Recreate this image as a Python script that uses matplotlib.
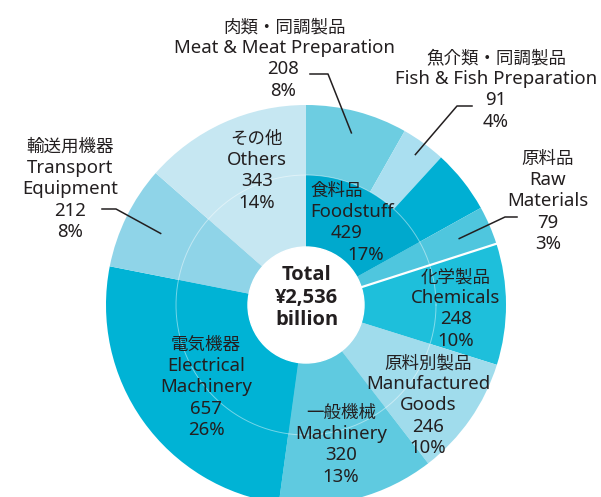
import numpy as np
import matplotlib
matplotlib.use('Agg')
import matplotlib.pyplot as plt

FONT = ['Noto Sans', 'Noto Sans CJK JP', 'DejaVu Sans']
plt.rcParams['font.family'] = FONT

# ---------------- data ----------------
total = 2536
categories_ja = ['食料品', '原料品', '化学製品', '原料別製品', '一般機械', '電気機器', '輸送用機器', 'その他']
categories_en = ['Foodstuff', 'Raw\nMaterials', 'Chemicals', 'Manufactured\nGoods', 'Machinery',
                 'Electrical\nMachinery', 'Transport\nEquipment', 'Others']
values = [429, 79, 248, 246, 320, 657, 212, 343]

food_sub_ja = ['肉類・同調製品', '魚介類・同調製品']
food_sub_en = ['Meat & Meat Preparation', 'Fish & Fish Preparation']
food_sub_values = [208, 91]

colors = ['#00a9cd', '#4fc6de', '#1ebfdb', '#a0dcec', '#5fcae0', '#00b3d5', '#8fd4e8', '#c6e7f2']
food_sub_colors = ['#6dcde1', '#aadff0']
food_rest_color = '#00afd3'
TEXT = '#231f20'

# ---------------- figure ----------------
W, H = 601, 497
fig = plt.figure(figsize=(W / 100, H / 100), dpi=100)
ax = fig.add_axes([0, 0, 1, 1])

C = (306, 305)
R_OUT, R_IN, R_HOLE = 200, 130, 58

outer_vals = food_sub_values + [values[0] - sum(food_sub_values)] + values[1:]
outer_cols = food_sub_colors + [food_rest_color] + colors[1:]

ax.pie(outer_vals, colors=outer_cols, radius=R_OUT, center=C, startangle=-90,
       counterclock=True, wedgeprops=dict(linewidth=0))
ax.pie(values, colors=colors, radius=R_IN, center=C, startangle=-90,
       counterclock=True, wedgeprops=dict(linewidth=0))

th = np.linspace(0, 2 * np.pi, 400)
ax.plot(C[0] + R_IN * np.cos(th), C[1] + R_IN * np.sin(th), color='white', lw=0.7, alpha=0.45)
ax.add_patch(plt.Circle(C, R_HOLE, color='white', zorder=5))

tot_v = sum(outer_vals)
cum = np.cumsum([0] + outer_vals)
def ang(frac):
    return np.deg2rad(-90 + 360 * frac)

# white separator between Raw Materials and Chemicals
a_sep = ang(cum[4] / tot_v)
ax.plot([C[0] + R_HOLE * np.cos(a_sep), C[0] + R_OUT * np.cos(a_sep)],
        [C[1] + R_HOLE * np.sin(a_sep), C[1] + R_OUT * np.sin(a_sep)], color='white', lw=1.6, zorder=4)

def mid_pt(i, r):
    a = ang((cum[i] + cum[i + 1]) / 2 / tot_v)
    return C[0] + r * np.cos(a), C[1] + r * np.sin(a)

FS_JA = 12.6
FS_EN = 13.4
DY = 21.2

def lines_at(x, y, lines, xs=None, ja_first=True, dy=DY, **kw):
    for k, ln in enumerate(lines):
        xx = x if xs is None else xs[k]
        fs = kw.get('fs', FS_JA if (k == 0 and ja_first) else FS_EN)
        ax.text(xx, y + k * dy, ln, ha='center', va='center', fontsize=fs,
                color=TEXT, fontweight=kw.get('fw', 'normal'),
                family=kw.get('family', FONT), zorder=6)

def pct(v):
    return f"{round(v / total * 100)}%"

def lbl(i):
    return [categories_ja[i]] + categories_en[i].split('\n') + [str(values[i]), pct(values[i])]

def leader(pts):
    xs, ys = zip(*pts)
    ax.plot(xs, ys, color=TEXT, lw=1.1, zorder=6)

# Meat
lines_at(285, 27, [food_sub_ja[0], food_sub_en[0]])
lines_at(283, 27 + 2 * DY, [str(food_sub_values[0]), pct(food_sub_values[0])], ja_first=False)
leader([(310, 74), (328, 74), mid_pt(0, 178)])
# Fish
lines_at(496, 58, [food_sub_ja[1], food_sub_en[1]])
lines_at(496, 58 + 2 * DY, [str(food_sub_values[1]), pct(food_sub_values[1])], ja_first=False)
leader([(472, 106), (457, 106), mid_pt(1, 186)])
# Raw materials
lines_at(548, 159, lbl(1))
leader([(517, 217), (505, 217), mid_pt(3, 167)])
# Transport
lines_at(70, 147, lbl(6))
leader([(102, 209), (116, 209), mid_pt(8, 162)])

# inner labels
lines_at(0, 191, lbl(0), xs=[337, 352, 347, 366])
lines_at(456, 277, lbl(2))
lines_at(428, 363, lbl(3))
lines_at(341, 413, lbl(4))
lines_at(206, 345, lbl(5))
lines_at(257, 139, lbl(7))

# centre
lines_at(C[0] + 1, 275, ['Total', f"¥{total:,}", 'billion'], ja_first=False, fw='bold', fs=14.5,
         dy=22.5, family=['Open Sans', 'DejaVu Sans'])

ax.set_xlim(0, W)
ax.set_ylim(H, 0)
ax.set_aspect('auto')
ax.axis('off')
fig.savefig('out.png', dpi=100)
